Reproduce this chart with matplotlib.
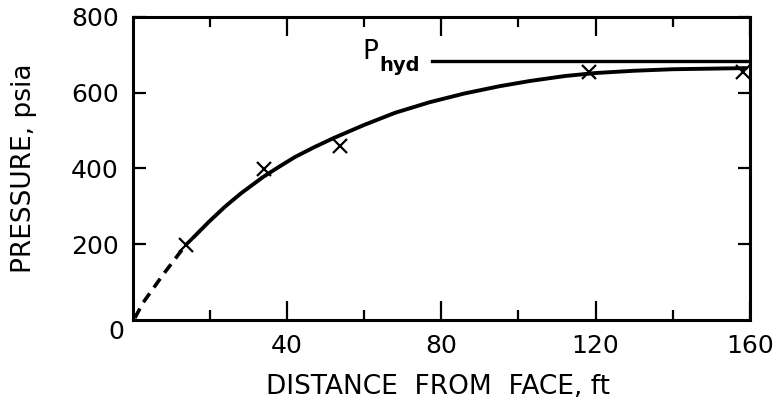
import matplotlib
matplotlib.use("Agg")
import matplotlib.pyplot as plt

# measured points (x marks)
dist_pts = [13.7, 34.0, 53.6, 118.4, 158.3]
press_pts = [198, 398, 460, 654, 655]

# fitted curve: dashed extrapolation to the face, then solid
dash_x = [0.5, 2.6, 8.0, 13.7, 15.8]
dash_y = [5, 45, 122, 198, 219]
curve_x = [15.8, 20, 24, 28, 33.7, 38, 42, 47, 52, 60, 68, 77, 86, 95, 103, 112, 120, 130, 140, 159]
curve_y = [219, 262, 300, 334, 377, 405, 430, 456, 480, 515, 547, 575, 598, 617, 631, 644, 652, 658, 662, 665]

# hydrostatic pressure line
p_hyd = 683
p_hyd_x = [77.5, 160]

fig = plt.figure(figsize=(7.77, 4.04), dpi=100)
ax = fig.add_axes([0.171, 0.208, 0.794, 0.750])

ax.plot(dash_x, dash_y, color='black', lw=2.6, linestyle=(0, (3, 2)), solid_capstyle='butt')
ax.plot(curve_x, curve_y, color='black', lw=2.8, solid_capstyle='round')
ax.plot(dist_pts, press_pts, linestyle='none', marker='x', color='black',
        markersize=10, markeredgewidth=1.6)
ax.plot(p_hyd_x, [p_hyd, p_hyd], color='black', lw=2.4)

ax.text(59.4, 708, 'P', fontsize=19, ha='left', va='center')
ax.text(64.0, 672, 'hyd', fontsize=14, fontweight='bold', ha='left', va='center')

ax.set_xlim(0, 160)
ax.set_ylim(0, 800)
ax.set_xticks([40, 80, 120, 160])
ax.set_xticks([20, 60, 100, 140], minor=True)
ax.set_yticks([200, 400, 600, 800])

for s in ax.spines.values():
    s.set_linewidth(2.2)

ax.tick_params(which='major', direction='in', top=True, right=True, width=1.6,
               labelsize=18, pad=10)
ax.tick_params(axis='x', which='major', length=14)
ax.tick_params(axis='y', which='major', length=9)
ax.tick_params(axis='x', which='minor', direction='in', top=True, length=7, width=1.6)
ax.tick_params(axis='y', which='minor', length=0)

fig.text(116 / 777, 1 - 332 / 404, '0', fontsize=18, ha='center', va='center')

ax.set_xlabel('DISTANCE  FROM  FACE, ft', fontsize=19)
ax.set_ylabel('PRESSURE, psia', fontsize=19)
ax.xaxis.set_label_coords(0.494, -0.178)
ax.yaxis.set_label_coords(-0.156, 0.5)

fig.savefig('out.png', dpi=100)
